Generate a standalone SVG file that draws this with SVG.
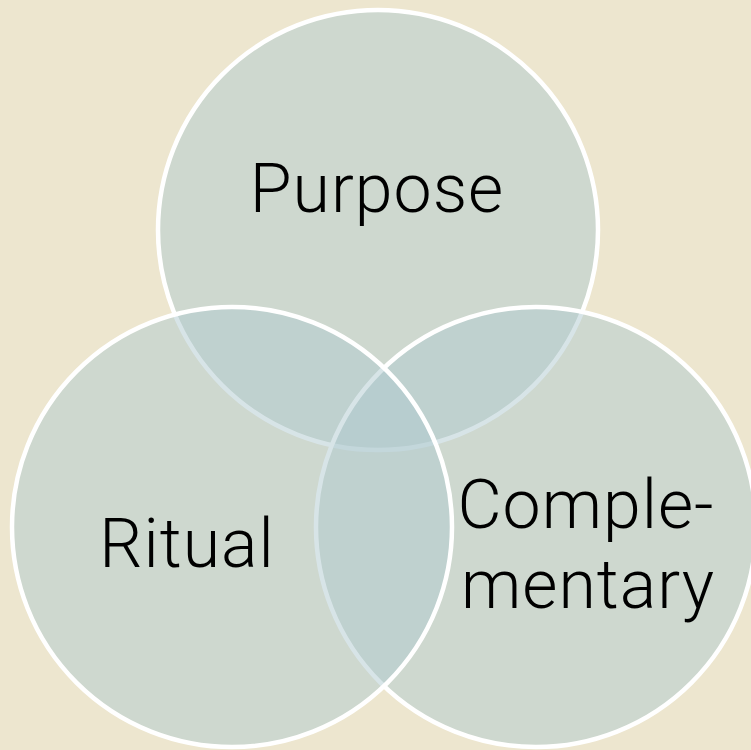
<svg xmlns="http://www.w3.org/2000/svg" width="751" height="750" viewBox="0 0 751 750">
<style>
.c{fill:rgb(175,202,207);fill-opacity:0.5;stroke:#ffffff;stroke-width:4.5}
.t{font-family:Roboto,"Liberation Sans",sans-serif;font-size:68px;font-weight:300;fill:#000000;text-anchor:middle;letter-spacing:1px}
</style>
<rect width="751" height="750" fill="#EDE6CF"/>
<g id="purpose">
<circle class="c" cx="378" cy="230" r="220"/>
<text class="t" x="377" y="212">Purpose</text>
</g>
<g id="complementary">
<circle class="c" cx="536" cy="527" r="220"/>
<text class="t" x="586" y="528">Comple-</text>
<text class="t" x="588" y="608">mentary</text>
</g>
<g id="ritual">
<circle class="c" cx="232" cy="527" r="220"/>
<text class="t" x="187" y="567">Ritual</text>
</g>
<g id="connectors"></g>
</svg>
